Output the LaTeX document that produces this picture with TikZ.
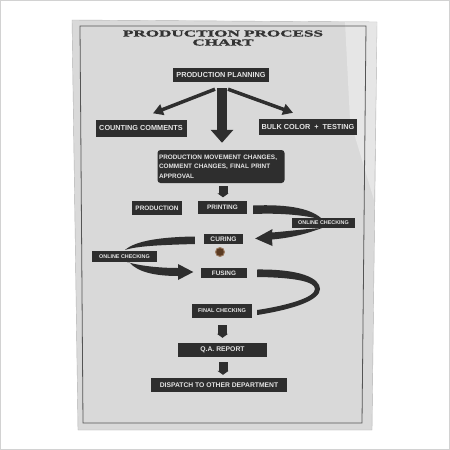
\documentclass[tikz,border=0pt]{standalone}
\usepackage{fontspec}
\setmainfont{Liberation Sans}
\newfontfamily\titlefont[FakeBold=1.5]{Liberation Serif Bold}
\usetikzlibrary{arrows.meta,calc}
\definecolor{boxc}{HTML}{2E2E2E}
\definecolor{paper}{HTML}{D9D9D9}
\definecolor{frame}{HTML}{555555}
\definecolor{txt}{HTML}{E4E4E4}
\definecolor{titlec}{HTML}{333333}
\definecolor{holec}{HTML}{5B3B22}
\definecolor{holeedge}{HTML}{9A7A60}
\begin{document}
\begin{tikzpicture}[x=1pt,y=-1pt,
  box/.style={fill=boxc, text=txt, inner sep=0pt, anchor=center,
    font=\bfseries\fontsize{#1}{#1}\selectfont},
  ttl/.style={text=titlec, inner sep=0pt, font=\titlefont\fontsize{9}{9}\selectfont},
  bigarrow/.style={draw=boxc, line width=10pt, -{Triangle[width=22pt,length=13pt]}},
  thinarrow/.style={draw=boxc, line width=3.5pt, -{Triangle[width=11pt,length=10pt]}},
  blockarrow/.style={draw=boxc, line width=9pt, -{Triangle[width=11pt,length=4pt]}},
  swoosh/.style={fill=boxc}
]
\useasboundingbox (0,0) rectangle (450,450);
\fill[white] (0,0) rectangle (450,450);
\draw[gray!35, line width=0.8pt] (0.5,0.5) rectangle (449.5,449.5);
% poster sheet
\fill[paper, draw=gray!60] (72,20) -- (377,22) -- (372,430) -- (78,430) -- cycle;
\fill[white, opacity=0.35] (345,22) -- (377,22) -- (374,200) -- (350,120) -- cycle;
\draw[frame, line width=0.8pt] (80,26) -- (366,26) -- (362,423) -- (83,423) -- cycle;

% title
\node[ttl] (title1) at (223,33.5) {\scalebox{1.9}[1]{PRODUCTION PROCESS}};
\node[ttl] (title2) at (223,42.5) {\scalebox{1.9}[1]{CHART}};

% nodes
\node[box=7.3, minimum width=96pt, minimum height=14pt] (pp) at (221,75) {PRODUCTION PLANNING};
\node[box=7.3, minimum width=91pt, minimum height=17pt] (cc) at (141,128) {COUNTING COMMENTS};
\node[box=7.3, minimum width=98pt, minimum height=16pt] (bc) at (308,127) {BULK COLOR \ + \ TESTING};
\node[box=6.4, font=\bfseries\fontsize{6.4}{9.3}\selectfont, rounded corners=3pt,
      text width=124pt, inner xsep=1.5pt, align=left, minimum height=33pt] (pmc) at (221,166.5)
      {PRODUCTION MOVEMENT CHANGES,\\COMMENT CHANGES, FINAL PRINT\\APPROVAL};
\node[box=6.4, minimum width=50pt, minimum height=14pt] (prod) at (157,208) {PRODUCTION};
\node[box=6.4, minimum width=49pt, minimum height=13pt] (print) at (222.5,207.5) {PRINTING};
\node[box=6.6, minimum width=39pt, minimum height=10pt] (cur) at (223.5,239) {CURING};
\node[box=6.4, minimum width=46pt, minimum height=10pt] (fus) at (224,273) {FUSING};
\node[box=5.6, minimum width=60pt, minimum height=14pt] (fc) at (222,311) {FINAL CHECKING};
\node[box=6.8, minimum width=89pt, minimum height=14pt] (qa) at (222.5,350) {Q.A. REPORT};
\node[box=6.75, minimum width=136pt, minimum height=14pt] (disp) at (219,385) {DISPATCH TO OTHER DEPARTMENT};

% arrows from planning
\draw[bigarrow] ($(pp.south)+(1,6)$) -- ($(pmc.north)+(1,-7)$);
\draw[thinarrow] ($(pp.south)+(-6,7)$) -- ($(cc.north)+(12,-6)$);
\draw[thinarrow] ($(pp.south)+(7,7)$) -- ($(bc.north)+(-15,-6)$);

% block arrows
\draw[blockarrow] ($(pmc.south)+(2,3)$) -- ($(print.north)+(0.5,-3.5)$);
\draw[blockarrow] ($(fc.south)+(0.5,7)$) -- ($(qa.north)+(0,-5)$);
\draw[blockarrow] ($(qa.south)+(0.5,5)$) -- ($(disp.north)+(4,-3)$);

% swooshes (drawn before the checking boxes)
\coordinate (a1) at ($(print.east)+(6,-2)$);
\coordinate (a2) at ($(print.east)+(6,6.5)$);
\coordinate (atip) at (323,220);
\fill[swoosh] (a1) .. controls (290,204) and (313,209) .. (atip)
  .. controls (313,217) and (290,212.5) .. (a2) -- cycle;

\coordinate (bs) at (322,228);
\coordinate (btip) at ($(cur.east)+(12,-0.5)$);
\fill[swoosh] (bs) .. controls (300,229.5) and (285,231.5) .. (272,232.5)
  -- (272.5,229) -- (btip) -- (272.5,246) -- (272,239.5)
  .. controls (290,238) and (306,234) .. (bs) -- cycle;

\coordinate (c1) at ($(cur.west)+(-9,-2.5)$);
\coordinate (c2) at ($(cur.west)+(-9,5)$);
\coordinate (ctip) at (125,250);
\fill[swoosh] (c1) .. controls (160,237) and (135,241) .. (ctip)
  .. controls (137,246) and (160,245) .. (c2) -- cycle;

\coordinate (ds) at (127,262);
\coordinate (dtip) at ($(fus.west)+(-7.5,-1)$);
\fill[swoosh] (ds) .. controls (140,266) and (160,268) .. (178,268)
  -- (178,264) -- (dtip) -- (178,280) -- (178,276)
  .. controls (155,276) and (138,272) .. (130,263) -- cycle;

\coordinate (e1) at ($(fus.east)+(10,-3.5)$);
\coordinate (e2) at ($(fus.east)+(10,4)$);
\coordinate (e3) at ($(fc.east)+(5,-1)$);
\coordinate (e4) at ($(fc.east)+(5,4)$);
\fill[swoosh] (e1) .. controls (300,269) and (320,278) .. (320,289)
  .. controls (320,300) and (295,309) .. (e4) -- (e3)
  .. controls (290,305) and (315,297) .. (315,289)
  .. controls (315,282) and (297,277.5) .. (e2) -- cycle;

\node[box=5.4, minimum width=63pt, minimum height=10pt] (oc1) at (323.5,223) {ONLINE CHECKING};
\node[box=5.4, minimum width=65pt, minimum height=11pt] (oc2) at (124.5,256.5) {ONLINE CHECKING};

% pin hole
\fill[holeedge] (220,252) circle (5);
\fill[holec] (220,252) circle (3.8);
\end{tikzpicture}
\end{document}
